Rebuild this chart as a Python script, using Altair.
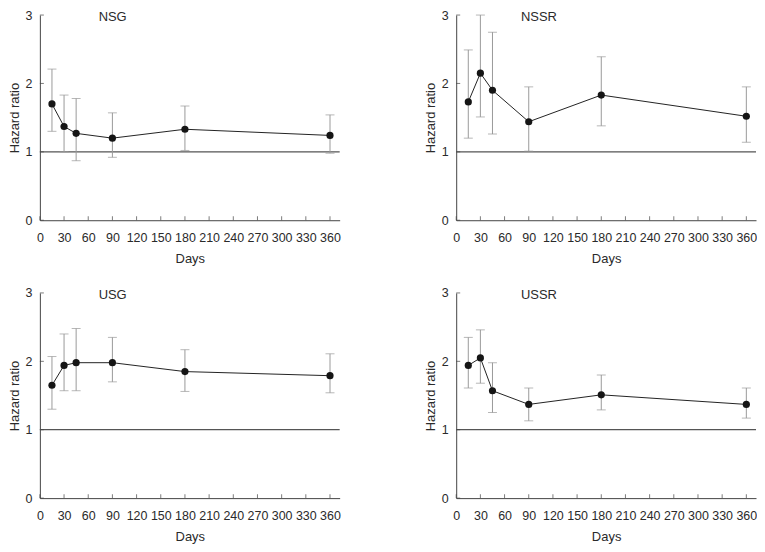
import altair as alt
import pandas as pd

# ---- data ----
DAYS = [15, 30, 45, 90, 180, 360]
PANELS = ["NSG", "NSSR", "USG", "USSR"]

NSG_HR = [1.70, 1.37, 1.27, 1.20, 1.33, 1.24]
NSG_LO = [1.30, 1.00, 0.87, 0.92, 1.02, 0.98]
NSG_HI = [2.21, 1.83, 1.78, 1.57, 1.67, 1.54]

NSSR_HR = [1.73, 2.15, 1.90, 1.44, 1.83, 1.52]
NSSR_LO = [1.20, 1.51, 1.26, 1.01, 1.38, 1.14]
NSSR_HI = [2.49, 3.00, 2.75, 1.95, 2.39, 1.95]

USG_HR = [1.65, 1.94, 1.98, 1.98, 1.85, 1.79]
USG_LO = [1.30, 1.57, 1.57, 1.70, 1.56, 1.54]
USG_HI = [2.07, 2.40, 2.48, 2.35, 2.17, 2.11]

USSR_HR = [1.94, 2.05, 1.57, 1.37, 1.51, 1.37]
USSR_LO = [1.61, 1.68, 1.25, 1.13, 1.29, 1.17]
USSR_HI = [2.35, 2.46, 1.98, 1.61, 1.80, 1.61]

X_TICKS = list(range(0, 361, 30))
Y_TICKS = [0, 1, 2, 3]
X_DOMAIN = [0, 372]
Y_DOMAIN = [0, 3]
REF_LINE = 1

FONT = "Liberation Sans"
TEXT = "#2a2a2a"
AXIS = "#444444"

W, H = 301, 206


def panel(name, hr, lo, hi, title_dx):
    df = pd.DataFrame({"day": DAYS, "hr": hr, "lo": lo, "hi": hi})
    xs = alt.Scale(domain=X_DOMAIN, nice=False, zero=False)
    ys = alt.Scale(domain=Y_DOMAIN, nice=False)
    x_axis = alt.Axis(values=X_TICKS, tickCount=30, ticks=False, tickSize=0, grid=False,
                      labelPadding=11, title="Days", titlePadding=9,
                      domainColor=AXIS, labelFlush=False, labelOverlap=False,
                      format="d")
    y_axis = alt.Axis(values=Y_TICKS, tickCount=10, ticks=False, tickSize=0, grid=False,
                      labelPadding=8, title="Hazard ratio", titlePadding=4,
                      domainColor=AXIS, format="d", labelOverlap=False)

    base = alt.Chart(df)
    bars = base.mark_rule(color="#999999", strokeWidth=1).encode(
        x=alt.X("day:Q", scale=xs, axis=x_axis),
        y=alt.Y("lo:Q", scale=ys, axis=y_axis),
        y2="hi:Q",
    )
    cap_lo = base.mark_tick(color="#999999", size=9, thickness=1, orient="horizontal").encode(
        x="day:Q", y="lo:Q")
    cap_hi = base.mark_tick(color="#999999", size=9, thickness=1, orient="horizontal").encode(
        x="day:Q", y="hi:Q")
    ref = alt.Chart(pd.DataFrame({"v": [REF_LINE]})).mark_rule(
        color="#555555", strokeWidth=1.3).encode(y="v:Q")
    line = base.mark_line(color="#222222", strokeWidth=1).encode(x="day:Q", y="hr:Q")
    pts = base.mark_circle(color="#151515", size=52, opacity=1).encode(x="day:Q", y="hr:Q")

    xt = alt.Chart(pd.DataFrame({"day": X_TICKS, "lo": [0] * len(X_TICKS)})).mark_tick(
        color=AXIS, size=4, thickness=1, orient="vertical", yOffset=-2).encode(
        x="day:Q", y="lo:Q")
    yt = alt.Chart(pd.DataFrame({"lo": Y_TICKS, "day": [0] * len(Y_TICKS)})).mark_tick(
        color=AXIS, size=4, thickness=1, orient="horizontal", xOffset=2).encode(
        x="day:Q", y="lo:Q")

    label = alt.Chart(pd.DataFrame({"name": [name]})).mark_text(
        align="left", baseline="middle", font=FONT, fontSize=13, color=TEXT,
    ).encode(x=alt.value(title_dx), y=alt.value(2), text="name:N")

    return alt.layer(ref, bars, cap_lo, cap_hi, line, pts, xt, yt, label).properties(
        width=W, height=H,
    )


p1 = panel("NSG", NSG_HR, NSG_LO, NSG_HI, 59)
p2 = panel("NSSR", NSSR_HR, NSSR_LO, NSSR_HI, 65)
p3 = panel("USG", USG_HR, USG_LO, USG_HI, 59)
p4 = panel("USSR", USSR_HR, USSR_LO, USSR_HI, 65)

chart = alt.vconcat(
    alt.hconcat(p1, p2, spacing=84),
    alt.hconcat(p3, p4, spacing=84),
    spacing=21,
).properties(padding={"left": 0, "top": 0, "right": 0, "bottom": 0}).configure_view(
    stroke=None
).configure_axis(
    labelFont=FONT, titleFont=FONT, labelFontSize=12.5, titleFontSize=13,
    labelColor=TEXT, titleColor=TEXT, titleFontWeight="normal",
).configure_axisX(labelOverlap=False)

chart.save("out.html", embed_options={"renderer": "svg", "actions": False})
